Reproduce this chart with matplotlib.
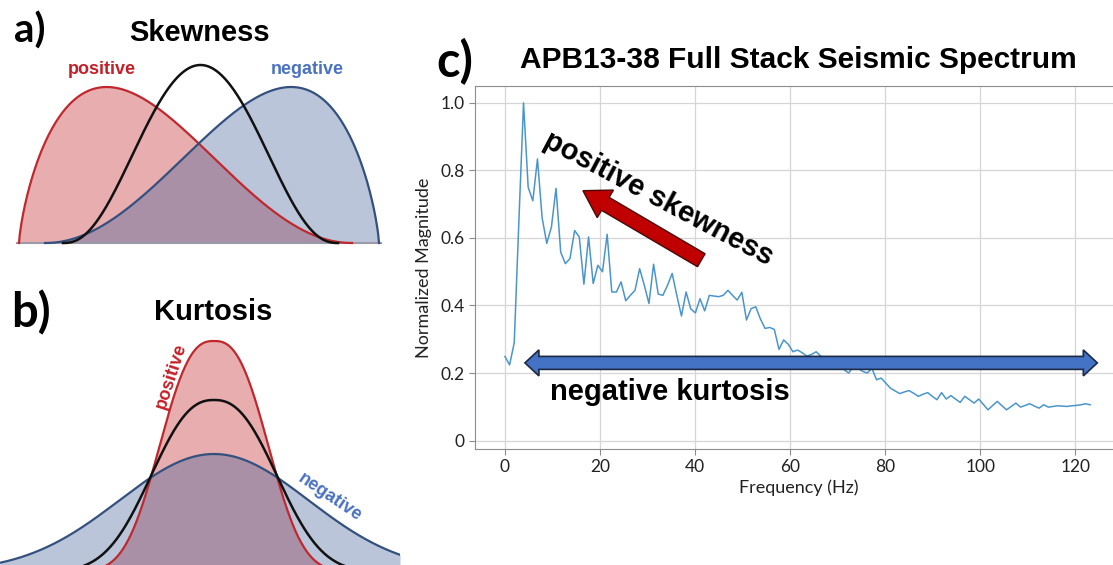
import numpy as np
import matplotlib.pyplot as plt
from matplotlib.patches import Polygon
from matplotlib.transforms import IdentityTransform

W, H = 1113, 565

# ---- panel c: spectrum values ----
df = 0.977  # frequency step (Hz)
magnitude = [
    0.249, 0.224, 0.290, 0.650, 1.000, 0.750, 0.710, 0.834, 0.660, 0.584,
    0.632, 0.747, 0.558, 0.524, 0.539, 0.622, 0.603, 0.463, 0.603, 0.465,
    0.519, 0.500, 0.611, 0.440, 0.440, 0.470, 0.414, 0.430, 0.445, 0.509,
    0.460, 0.406, 0.522, 0.434, 0.430, 0.460, 0.495, 0.430, 0.369, 0.440,
    0.390, 0.378, 0.420, 0.384, 0.430, 0.428, 0.426, 0.430, 0.445, 0.430,
    0.416, 0.439, 0.357, 0.391, 0.396, 0.360, 0.332, 0.335, 0.329, 0.270,
    0.298, 0.285, 0.263, 0.268, 0.260, 0.250, 0.255, 0.263, 0.250, 0.240,
    0.230, 0.215, 0.225, 0.210, 0.200, 0.219, 0.214, 0.205, 0.200, 0.214,
    0.180, 0.185, 0.170, 0.155, 0.147, 0.139, 0.144, 0.148, 0.140, 0.131,
    0.137, 0.142, 0.131, 0.121, 0.142, 0.123, 0.133, 0.123, 0.113, 0.131,
    0.121, 0.111, 0.123, 0.107, 0.091, 0.104, 0.116, 0.103, 0.091, 0.101,
    0.111, 0.099, 0.104, 0.109, 0.102, 0.096, 0.106, 0.099, 0.101, 0.103,
    0.102, 0.101, 0.103, 0.104, 0.106, 0.109, 0.106,
]
freq = np.arange(len(magnitude)) * df

xticks = [0, 20, 40, 60, 80, 100, 120]
yticks = [0, 0.2, 0.4, 0.6, 0.8, 1.0]
ytick_labels = ['0', '0.2', '0.4', '0.6', '0.8', '1.0']

# annotation arrows (data units of panel c)
skew_arrow = ((41.3, 0.534), (16.4, 0.740))
kurt_arrow = ((4.2, 0.230), (124.6, 0.230))

# ---- panels a/b: schematic distributions (left panel pixel units) ----
skew_shape = (1.75, 3.1)         # beta(a, b), mirrored for the negative one
skew_span_pos = (19, 352)
skew_span_neg = (45, 379)
skew_height = 156
normal_span = (63, 338)
normal_shape = 3.5
normal_height = 178
base_a = 243

kurt_center = 214
base_b = 572
kurt_pos = (231, 66.0, 2.6)      # height, scale, exponent
kurt_norm = (172, 79.0, 2.4)
kurt_neg = (118, 134.0, 2.0)

RED = '#c0282d'
RED_TXT = '#c42028'
BLUE_EDGE = '#34507e'
BLUE_TXT = '#4a72c0'

fig = plt.figure(figsize=(W / 100, H / 100), dpi=100)

# ---------- left side (a and b) ----------
axl = fig.add_axes([0, 0, 400 / W, 1])
axl.set_xlim(0, 400)
axl.set_ylim(H, 0)
axl.axis('off')


def beta_curve(span, a, b, height, mirror=False):
    t = np.linspace(0, 1, 400)
    y = t ** (a - 1) * (1 - t) ** (b - 1)
    y = y / y.max() * height
    if mirror:
        y = y[::-1]
    x = span[0] + t * (span[1] - span[0])
    return x, y


def gen_gauss(x, params):
    h, s, p = params
    return h * np.exp(-np.abs((x - kurt_center) / s) ** p)


# panel a
xr, yr = beta_curve(skew_span_pos, *skew_shape, skew_height)
xb, yb = beta_curve(skew_span_neg, *skew_shape, skew_height, mirror=True)
xk, yk = beta_curve(normal_span, normal_shape, normal_shape, normal_height)
axl.plot([17, 381], [base_a, base_a], color='#9a9aa8', lw=1.5)
axl.fill_between(xr, base_a, base_a - yr, color=RED, alpha=0.38, lw=0)
axl.fill_between(xb, base_a, base_a - yb, color='#3a5a96', alpha=0.35, lw=0)
axl.plot(xr, base_a - yr, color=RED, lw=1.6)
axl.plot(xb, base_a - yb, color=BLUE_EDGE, lw=1.6)
axl.plot(xk, base_a - yk, color='#111111', lw=1.8)

axl.text(30, 31, 'a)', fontsize=29, fontweight='bold', family='Lato',
         ha='center', va='center')
axl.text(199, 33, 'Skewness', fontsize=21, fontweight='bold',
         family='Liberation Sans', ha='center', va='center')
axl.text(102, 70, 'positive', fontsize=13, fontweight='bold',
         family='Liberation Sans', color=RED_TXT, ha='center', va='center')
axl.text(307, 70, 'negative', fontsize=13, fontweight='bold',
         family='Liberation Sans', color=BLUE_TXT, ha='center', va='center')

# panel b
xg = np.linspace(0, 400, 600)
yp = gen_gauss(xg, kurt_pos)
yn = gen_gauss(xg, kurt_norm)
yg = gen_gauss(xg, kurt_neg)
axl.fill_between(xg, base_b, base_b - yp, color=RED, alpha=0.38, lw=0)
axl.fill_between(xg, base_b, base_b - yg, color='#3a5a96', alpha=0.35, lw=0)
axl.plot(xg, base_b - yp, color=RED, lw=1.6)
axl.plot(xg, base_b - yg, color=BLUE_EDGE, lw=1.6)
axl.plot(xg, base_b - yn, color='#111111', lw=1.8)

axl.text(31, 313, 'b)', fontsize=34, fontweight='bold', family='Lato',
         ha='center', va='center')
axl.text(213, 312, 'Kurtosis', fontsize=21, fontweight='bold',
         family='Liberation Sans', ha='center', va='center')
axl.text(171, 376, 'positive', fontsize=13, fontweight='bold',
         family='Liberation Sans', color=RED_TXT, rotation=72,
         ha='center', va='center')
axl.text(330, 497, 'negative', fontsize=13, fontweight='bold',
         family='Liberation Sans', color=BLUE_TXT, rotation=-34,
         ha='center', va='center')

# ---------- panel c ----------
ax = fig.add_axes([475 / W, 1 - 449 / H, (1123 - 475) / W, (449 - 86) / H])
ax.plot(freq, magnitude, color='#4a96cc', lw=1.1, zorder=2)
ax.set_xlim(-6.3, 130)
ax.set_ylim(-0.025, 1.05)
ax.set_xticks(xticks)
ax.set_yticks(yticks)
ax.set_yticklabels(ytick_labels)
ax.grid(color='#d6d6d6', lw=0.9)
ax.set_axisbelow(True)
for sp in ax.spines.values():
    sp.set_color('#8c8c8c')
ax.tick_params(colors='#8c8c8c', labelcolor='#222222', labelsize=12.5,
               length=4)
for lab in ax.get_xticklabels() + ax.get_yticklabels():
    lab.set_family('Lato')
ax.set_xlabel('Frequency (Hz)', fontsize=13, family='Lato', color='#222222',
              labelpad=3)
ax.set_ylabel('Normalized Magnitude', fontsize=13, family='Lato',
              color='#222222', labelpad=6)

fig.text(455 / W, 1 - 62 / H, 'c)', fontsize=35, fontweight='bold',
         family='Lato', ha='center', va='center')
fig.text(798 / W, 1 - 60 / H, 'APB13-38 Full Stack Seismic Spectrum',
         fontsize=21.5, fontweight='bold', family='Liberation Sans',
         ha='center', va='center')


def fat_arrow(ax, p0, p1, body, head_w, head_l, both=False, **kw):
    a = ax.transData.transform(p0)
    b = ax.transData.transform(p1)
    L = np.hypot(*(b - a))
    d = (b - a) / L
    n = np.array([-d[1], d[0]])
    if both:
        outline = [(0, 0), (head_l, head_w / 2), (head_l, body / 2),
                   (L - head_l, body / 2), (L - head_l, head_w / 2), (L, 0),
                   (L - head_l, -head_w / 2), (L - head_l, -body / 2),
                   (head_l, -body / 2), (head_l, -head_w / 2)]
    else:
        outline = [(0, body / 2), (L - head_l, body / 2),
                   (L - head_l, head_w / 2), (L, 0),
                   (L - head_l, -head_w / 2), (L - head_l, -body / 2),
                   (0, -body / 2)]
    verts = [a + u * d + v * n for u, v in outline]
    ax.add_patch(Polygon(verts, closed=True, transform=IdentityTransform(),
                         clip_on=False, **kw))


fat_arrow(ax, *skew_arrow, body=15, head_w=32, head_l=26,
          facecolor='#c00000', edgecolor='#4a0a0a', lw=1.0, zorder=4)
fat_arrow(ax, *kurt_arrow, body=13, head_w=26, head_l=14, both=True,
          facecolor='#4472c4', edgecolor='#1c2a44', lw=1.2, zorder=4)

ax.text(32.2, 0.717, 'positive skewness', fontsize=21, fontweight='bold',
        family='Liberation Sans', rotation=-28, ha='center', va='center',
        zorder=5)
ax.text(34.7, 0.145, 'negative kurtosis', fontsize=21, fontweight='bold',
        family='Liberation Sans', ha='center', va='center', zorder=5)

fig.savefig('out.png', dpi=100)
